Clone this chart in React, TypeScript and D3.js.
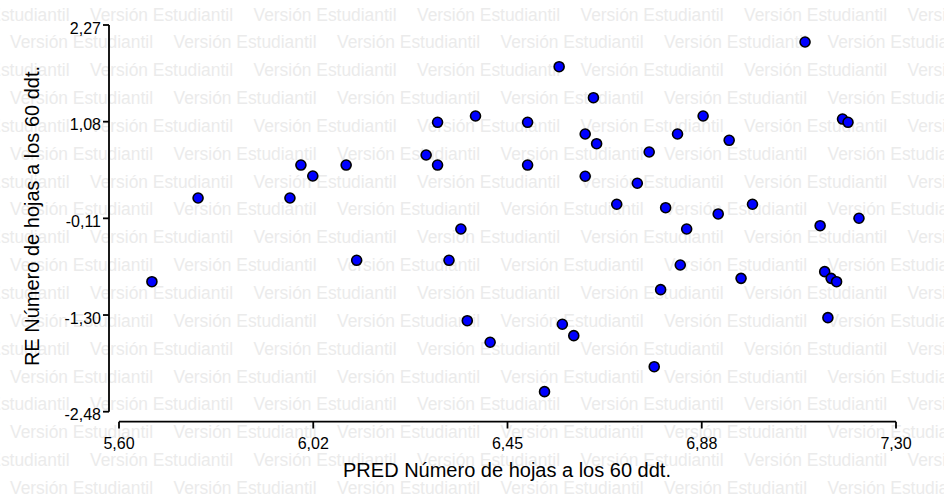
import React from "react";
import * as d3 from "d3";

const xValues = [5.672, 5.773, 5.974, 5.998, 6.024, 6.097, 6.120, 6.272, 6.297, 6.297, 6.322, 6.348, 6.362, 6.380, 6.412, 6.494, 6.494, 6.531, 6.563, 6.570, 6.595, 6.620, 6.620, 6.638, 6.645, 6.689, 6.734, 6.760, 6.771, 6.785, 6.796, 6.822, 6.828, 6.842, 6.878, 6.911, 6.935, 6.961, 6.986, 7.101, 7.134, 7.144, 7.151, 7.158, 7.170, 7.183, 7.195, 7.219];
const yValues = [-0.883, 0.145, 0.145, 0.550, 0.415, 0.550, -0.620, 0.673, 1.075, 0.550, -0.620, -0.236, -1.362, 1.152, -1.627, 1.075, 0.550, -2.234, 1.758, -1.406, -1.546, 0.931, 0.412, 1.377, 0.812, 0.068, 0.326, 0.710, -1.927, -0.981, 0.026, 0.931, -0.678, -0.236, 1.152, -0.051, 0.854, -0.842, 0.068, 2.061, -0.195, -0.760, -1.325, -0.842, -0.883, 1.115, 1.075, -0.104];

const xTickValues = [5.6, 6.025, 6.45, 6.875, 7.3];
const xTickLabels = ["5,60", "6,02", "6,45", "6,88", "7,30"];
const yTickValues = [-2.48, -1.2925, -0.105, 1.0825, 2.27];
const yTickLabels = ["-2,48", "-1,30", "-0,11", "1,08", "2,27"];

const xTitle = "PRED Número de hojas a los 60 ddt.";
const yTitle = "RE Número de hojas a los 60 ddt.";
const watermarkText = "Versión Estudiantil";

export default function App() {
  const W = 944, H = 497;
  const x = d3.scaleLinear().domain([5.6, 7.3]).range([119, 896]);
  const y = d3.scaleLinear().domain([-2.48, 2.27]).range([411.7, 25]);

  const wm: { x: number; y: number }[] = [];
  for (let n = 0; n < 18; n++) {
    const yy = 20.5 + 27.85 * n;
    const start = n % 2 === 0 ? 90 : 10;
    for (let k = -1; start + 163.5 * k < W; k++) {
      wm.push({ x: start + 163.5 * k, y: yy });
    }
  }

  const font = "Arial, 'Liberation Sans', Helvetica, sans-serif";

  return (
    <svg width={W} height={H} style={{ position: "absolute", left: 0, top: 0, background: "#fff" }}>
      <rect width={W} height={H} fill="#fff" />
      <g fill="#ebebeb" fontFamily="'Liberation Sans', Arial, sans-serif" fontSize={17.5}>
        {wm.map((p, i) => (
          <text key={i} x={p.x} y={p.y} textLength={143} lengthAdjust="spacingAndGlyphs">{watermarkText}</text>
        ))}
      </g>
      <g stroke="#000" strokeWidth={1.8} fill="none">
        <line x1={109} x2={109} y1={y(2.27)} y2={y(-2.48)} />
        {yTickValues.map((v, i) => (
          <line key={i} x1={103} x2={109} y1={y(v)} y2={y(v)} />
        ))}
        <line x1={x(5.6)} x2={x(7.3)} y1={421.7} y2={421.7} />
        {xTickValues.map((v, i) => (
          <line key={i} x1={x(v)} x2={x(v)} y1={421.7} y2={428.5} />
        ))}
      </g>
      <g fontFamily={font} fontSize={16} fill="#000">
        {yTickValues.map((v, i) => (
          <text key={i} x={101} y={y(v) + 8.5} textAnchor="end">{yTickLabels[i]}</text>
        ))}
        {xTickValues.map((v, i) => (
          <text key={i} x={x(v)} y={449} textAnchor="middle">{xTickLabels[i]}</text>
        ))}
      </g>
      <text x={507} y={476.5} textAnchor="middle" fontFamily={font} fontSize={20} fill="#000">{xTitle}</text>
      <text transform={`translate(39,216) rotate(-90)`} textAnchor="middle" fontFamily={font} fontSize={20} fill="#000">{yTitle}</text>
      <g>
        {xValues.map((v, i) => (
          <circle key={i} cx={x(v)} cy={y(yValues[i])} r={5} fill="#0000ff" stroke="#000" strokeWidth={1.6} />
        ))}
      </g>
    </svg>
  );
}
